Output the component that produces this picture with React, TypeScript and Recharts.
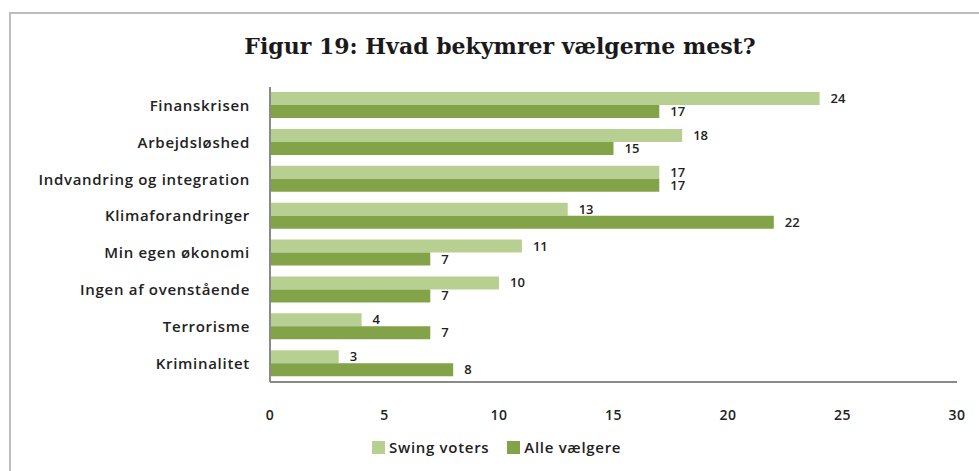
import React from 'react';
import { BarChart, Bar, XAxis, YAxis, LabelList } from 'recharts';

const categories = [
  'Finanskrisen',
  'Arbejdsløshed',
  'Indvandring og integration',
  'Klimaforandringer',
  'Min egen økonomi',
  'Ingen af ovenstående',
  'Terrorisme',
  'Kriminalitet',
];
const swingVoters = [24, 18, 17, 13, 11, 10, 4, 3];
const alleVaelgere = [17, 15, 17, 22, 7, 7, 7, 8];
const xTicks = [0, 5, 10, 15, 20, 25, 30];

const data = categories.map((name, i) => ({ name, swing: swingVoters[i], alle: alleVaelgere[i] }));

const LIGHT = '#b8cf92';
const DARK = '#83a349';
const FONT = '"Open Sans", sans-serif';

const renderLegend = () => (
  <div style={{ display: 'flex', gap: 18, fontFamily: FONT, fontSize: 15, fontWeight: 600, letterSpacing: 0.7, color: '#222' }}>
    {[
      { label: 'Swing voters', color: LIGHT },
      { label: 'Alle vælgere', color: DARK },
    ].map((item) => (
      <div key={item.label} style={{ display: 'flex', alignItems: 'center', gap: 4 }}>
        <span style={{ width: 13, height: 13, background: item.color, display: 'inline-block' }} />
        <span>{item.label}</span>
      </div>
    ))}
  </div>
);

const App: React.FC = () => {
  return (
    <div style={{ position: 'absolute', left: 0, top: 0, width: 979, height: 471, background: '#fff', overflow: 'hidden' }}>
      <div style={{ position: 'absolute', left: 9, top: 12, width: 1100, height: 600, border: '2px solid #bdbdbd' }} />
      <div
        style={{
          position: 'absolute',
          left: 0,
          top: 33,
          width: 1000,
          textAlign: 'center',
          fontFamily: '"DejaVu Serif", serif',
          fontWeight: 'bold',
          fontSize: 22,
          color: '#1a1a1a',
        }}
      >
        Figur 19: Hvad bekymrer vælgerne mest?
      </div>
      <BarChart
        width={979}
        height={471}
        data={data}
        layout="vertical"
        margin={{ top: 87, right: 22, left: 0, bottom: 59 }}
        barCategoryGap={5}
        barGap={0}
        style={{ position: 'absolute', left: 0, top: 0 }}
      >
        <XAxis
          type="number"
          domain={[0, 30]}
          ticks={xTicks}
          tickLine={false}
          axisLine={{ stroke: '#8a8a8a', strokeWidth: 2 }}
          tick={{ fill: '#222', fontSize: 14, fontWeight: 600, fontFamily: FONT, letterSpacing: 0.5 }}
          tickMargin={22}
        />
        <YAxis
          type="category"
          dataKey="name"
          width={270}
          tickLine={false}
          axisLine={{ stroke: '#8a8a8a', strokeWidth: 2 }}
          tick={{ fill: '#222', fontSize: 15, fontWeight: 600, fontFamily: FONT, letterSpacing: 0.7 }}
          tickMargin={14}
          interval={0}
        />
        <Bar dataKey="swing" name="Swing voters" fill={LIGHT} isAnimationActive={false}>
          <LabelList dataKey="swing" position="right" offset={11} style={{ fill: '#222', fontSize: 13, fontWeight: 600, fontFamily: FONT }} />
        </Bar>
        <Bar dataKey="alle" name="Alle vælgere" fill={DARK} isAnimationActive={false}>
          <LabelList dataKey="alle" position="right" offset={11} style={{ fill: '#222', fontSize: 13, fontWeight: 600, fontFamily: FONT }} />
        </Bar>
      </BarChart>
      <div style={{ position: 'absolute', left: 372, top: 437 }}>{renderLegend()}</div>
    </div>
  );
};

export default App;
